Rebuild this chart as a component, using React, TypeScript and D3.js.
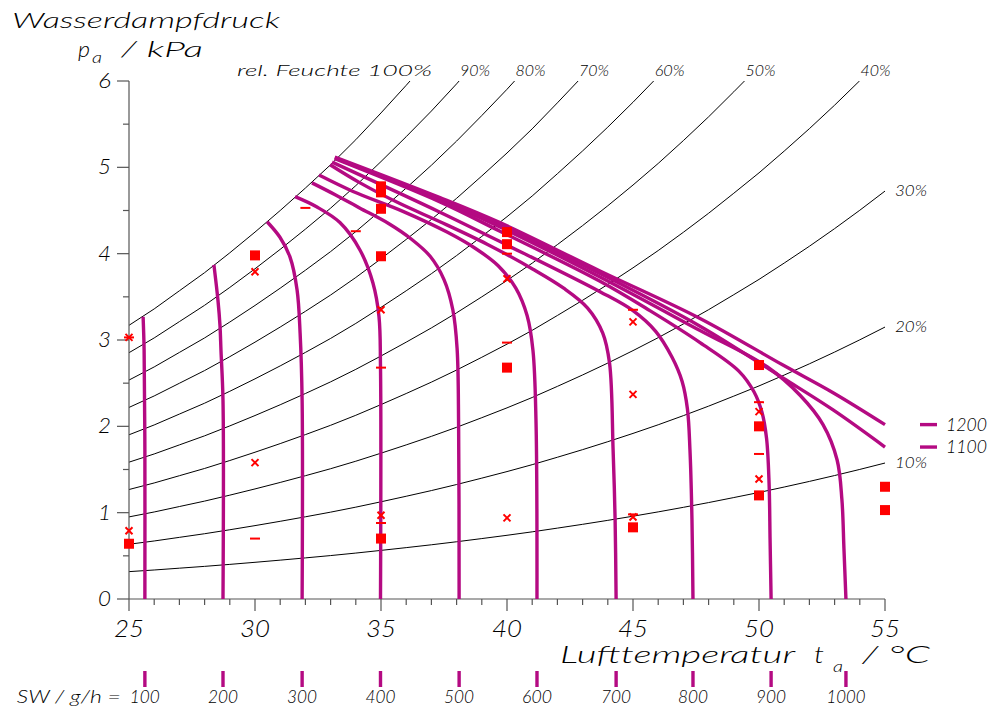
import React from 'react';
import * as d3 from 'd3';

// saturation vapour pressure (kPa), 25..55 °C
const tempGrid = [25, 26, 27, 28, 29, 30, 31, 32, 33, 34, 35, 36, 37, 38, 39, 40,
  41, 42, 43, 44, 45, 46, 47, 48, 49, 50, 51, 52, 53, 54, 55];
const psat = [3.17, 3.36, 3.57, 3.78, 4.01, 4.25, 4.5, 4.76, 5.03, 5.32, 5.63, 5.95,
  6.28, 6.63, 7.0, 7.38, 7.78, 8.21, 8.65, 9.11, 9.59, 10.09, 10.62, 11.17, 11.75,
  12.34, 12.97, 13.62, 14.3, 15.01, 15.75];
const rhLevels = [10, 20, 30, 40, 50, 60, 70, 80, 90, 100];

// sweat rate iso-lines [t, pa]
const sw100 = [[25.63, 0], [25.63, 1.73], [25.6, 2.88], [25.56, 3.27]];
const sw200 = [[28.73, 0], [28.73, 2.3], [28.65, 2.88], [28.61, 3.17], [28.53, 3.46], [28.37, 3.87]];
const sw300 = [[31.87, 0], [31.87, 2.3], [31.79, 3.08], [31.67, 3.58], [31.39, 3.96], [30.99, 4.19], [30.48, 4.37]];
const sw400 = [[34.98, 0], [34.98, 2.69], [34.92, 3.27], [34.68, 3.66], [34.17, 4.04], [33.37, 4.36], [32.46, 4.54], [31.59, 4.66]];
const sw500 = [[38.1, 0], [38.08, 2.0], [38.02, 2.9], [37.85, 3.35], [37.5, 3.7], [36.95, 3.97], [36.2, 4.17], [35.3, 4.35], [34.15, 4.53], [33.2, 4.68], [32.26, 4.82]];
const sw600 = [[41.19, 0], [41.15, 2.07], [41.03, 2.88], [40.8, 3.28], [40.35, 3.6], [39.65, 3.86], [38.75, 4.06], [37.62, 4.25], [35.87, 4.49], [33.89, 4.72], [32.54, 4.91]];
const sw700 = [[44.33, 0], [44.29, 0.92], [44.21, 1.73], [44.07, 2.73], [43.8, 3.08], [43.2, 3.37], [42.25, 3.6], [41.03, 3.82], [39.21, 4.11], [37.34, 4.37], [35.75, 4.58], [34.17, 4.82], [32.98, 5.03]];
const sw800 = [[47.38, 0], [47.34, 0.92], [47.26, 1.73], [47.16, 2.2], [46.95, 2.52], [46.55, 2.8], [45.9, 3.1], [45.0, 3.34], [43.69, 3.56], [40.0, 4.1], [37.34, 4.48], [33.06, 5.06]];
const sw900 = [[50.48, 0], [50.44, 0.68], [50.4, 1.34], [50.3, 1.86], [50.12, 2.16], [49.8, 2.4], [49.2, 2.64], [47.66, 2.97], [45.67, 3.34], [43.69, 3.68], [39.72, 4.26], [37.34, 4.6], [33.17, 5.1]];
const sw1000 = [[53.45, 0], [53.37, 0.59], [53.29, 1.15], [53.1, 1.61], [52.54, 2.02], [51.63, 2.36], [50.32, 2.69], [47.66, 3.11], [43.69, 3.73], [39.72, 4.31], [37.34, 4.62], [33.17, 5.11]];
const sw1100 = [[55.0, 1.76], [52.94, 2.19], [50.95, 2.56], [47.66, 3.16], [43.69, 3.77], [39.72, 4.33], [37.34, 4.63], [33.17, 5.11]];
const sw1200 = [[55.0, 2.02], [52.94, 2.39], [50.95, 2.71], [47.66, 3.25], [43.69, 3.8], [39.72, 4.36], [37.34, 4.65], [33.17, 5.12]];
const swLevels = [100, 200, 300, 400, 500, 600, 700, 800, 900, 1000, 1100, 1200];
const swCurves = [sw100, sw200, sw300, sw400, sw500, sw600, sw700, sw800, sw900, sw1000, sw1100, sw1200];
const swLegend = [1200, 1100];

// measured points
const squares = [[25, 0.64], [30, 3.98], [35, 4.78], [35, 4.71], [35, 4.52], [35, 3.97], [35, 0.7],
  [40, 4.25], [40, 4.11], [40, 2.68], [45, 0.83], [50, 2.71], [50, 2.0], [50, 1.2], [55, 1.3], [55, 1.03]];
const crosses = [[25, 3.03], [25, 0.79], [30, 3.79], [30, 1.58], [35, 3.35], [35, 0.97], [40, 3.71],
  [40, 0.94], [45, 3.21], [45, 2.37], [45, 0.95], [50, 2.17], [50, 1.39]];
const dashes = [[25, 3.03], [30, 0.7], [32, 4.53], [34, 4.26], [35, 2.68], [35, 0.88], [40, 4.0],
  [40, 2.97], [45, 3.35], [45, 0.98], [50, 2.28], [50, 1.68]];

const xTicks = [25, 30, 35, 40, 45, 50, 55];
const yTicks = [0, 1, 2, 3, 4, 5, 6];

const W = 990;
const H = 711;
const MAGENTA = '#b40a82';
const RED = '#ff0000';
const INK = '#000';
const AXIS = '#555';
const font = "Lato, 'DejaVu Sans', sans-serif";

const x = d3.scaleLinear().domain([25, 55]).range([129, 885]);
const y = d3.scaleLinear().domain([0, 6]).range([599, 81]);

const lineLin = d3.line<number[]>().x(d => x(d[0])).y(d => y(d[1]));
const lineSmooth = d3.line<number[]>().x(d => x(d[0])).y(d => y(d[1])).curve(d3.curveCatmullRom.alpha(0.5));

// where a rh curve leaves the plot (top edge or right edge)
function rhEnd(rh: number) {
  const f = rh / 100;
  for (let i = 1; i < tempGrid.length; i++) {
    const p0 = f * psat[i - 1];
    const p1 = f * psat[i];
    if (p1 >= 6) {
      const t = tempGrid[i - 1] + (6 - p0) / (p1 - p0);
      return { top: true, t, p: 6 };
    }
  }
  return { top: false, t: 55, p: f * psat[psat.length - 1] };
}

const T = (props: any) => (
  <text fontFamily={font} fontStyle="italic" fontWeight={300} fill={INK} lengthAdjust="spacingAndGlyphs" {...props} />
);

export default function App() {
  const minorX = d3.range(25, 56, 1);
  const minorY = d3.range(0, 6.01, 0.5);
  return (
    <svg width={W} height={H} style={{ position: 'absolute', left: 0, top: 0, background: '#fff' }}>
      <defs>
        <clipPath id="plot">
          <rect x={x(25)} y={y(6)} width={x(55) - x(25)} height={y(0) - y(6)} />
        </clipPath>
      </defs>

      {/* relative humidity curves */}
      <g clipPath="url(#plot)">
        {rhLevels.map(rh => (
          <path key={rh} d={lineLin(tempGrid.map((t, i) => [t, (rh / 100) * psat[i]])) || ''}
            fill="none" stroke="#000" strokeWidth={1} />
        ))}
      </g>
      {rhLevels.map(rh => {
        const e = rhEnd(rh);
        if (rh === 100) {
          return <T key={rh} x={x(e.t) + 22} y={76} fontSize={16} textAnchor="end" textLength={195}>rel. Feuchte 100%</T>;
        }
        if (e.top) {
          return <T key={rh} x={x(e.t) + 1} y={76} fontSize={16} textLength={30}>{rh}%</T>;
        }
        return <T key={rh} x={x(55) + 10} y={y(e.p) + 5} fontSize={16} textLength={32}>{rh}%</T>;
      })}

      {/* axes */}
      <line x1={x(25)} x2={x(25)} y1={y(0)} y2={y(6)} stroke={AXIS} strokeWidth={1.2} />
      <line x1={x(25)} x2={x(55)} y1={y(0)} y2={y(0)} stroke={AXIS} strokeWidth={1.2} />
      {minorX.map(t => (
        <line key={'xt' + t} x1={x(t)} x2={x(t)} y1={y(0)} y2={y(0) + (t % 5 === 0 ? 12 : 6)} stroke={AXIS} strokeWidth={1.2} />
      ))}
      {minorY.map(p => (
        <line key={'yt' + p} x1={x(25)} x2={x(25) - (p % 1 === 0 ? 12 : 6)} y1={y(p)} y2={y(p)} stroke={AXIS} strokeWidth={1.2} />
      ))}
      {xTicks.map(t => (
        <T key={'xl' + t} x={x(t)} y={637} fontSize={23} textAnchor="middle" textLength={30}>{t}</T>
      ))}
      {yTicks.map(p => (
        <T key={'yl' + p} x={111} y={y(p) + 7} fontSize={21} textAnchor="end" textLength={13}>{p}</T>
      ))}

      {/* axis titles */}
      <T x={12} y={28} fontSize={22} textLength={268}>Wasserdampfdruck</T>
      <T x={78} y={57} fontSize={22} textLength={12}>p</T>
      <T x={92} y={63} fontSize={15} textLength={10}>a</T>
      <T x={121} y={57} fontSize={22} textLength={82}>/ kPa</T>
      <T x={560} y={663} fontSize={23} textLength={235}>Lufttemperatur</T>
      <T x={814} y={663} fontSize={23} textLength={10}>t</T>
      <T x={833} y={672} fontSize={16} textLength={10}>a</T>
      <T x={862} y={663} fontSize={23} textLength={68}>/ °C</T>

      {/* sweat rate curves */}
      {swCurves.map((c, i) => (
        <path key={'sw' + swLevels[i]} d={lineSmooth(c) || ''} fill="none" stroke={MAGENTA}
          strokeWidth={3.4} strokeLinecap="butt" strokeLinejoin="round" />
      ))}

      {/* legend for curves ending at the right edge */}
      {swLegend.map(lv => {
        const c = swCurves[swLevels.indexOf(lv)];
        const yy = y(c[0][1]);
        return (
          <g key={'lg' + lv}>
            <line x1={920} x2={937} y1={yy} y2={yy} stroke={MAGENTA} strokeWidth={3.4} />
            <T x={946} y={yy + 6} fontSize={17} textLength={41}>{lv}</T>
          </g>
        );
      })}

      {/* sweat rate scale below the axis */}
      {swCurves.map((c, i) => {
        const lv = swLevels[i];
        if (c[0][1] !== 0) return null;
        const xx = x(c[0][0]);
        return (
          <g key={'sc' + lv}>
            <line x1={xx} x2={xx} y1={671} y2={687} stroke={MAGENTA} strokeWidth={3.4} />
            <T x={xx} y={703} fontSize={17} textAnchor="middle" textLength={lv >= 1000 ? 39 : 30}>{lv}</T>
            {lv === 100 && (
              <T x={xx - 24} y={703} fontSize={17} textAnchor="end" textLength={104}>SW / g/h =</T>
            )}
          </g>
        );
      })}

      {/* measured points */}
      {squares.map((d, i) => (
        <rect key={'sq' + i} x={x(d[0]) - 5} y={y(d[1]) - 5} width={10} height={10} fill={RED} />
      ))}
      {crosses.map((d, i) => (
        <path key={'cr' + i} d={`M${x(d[0]) - 3.5},${y(d[1]) - 3.5}L${x(d[0]) + 3.5},${y(d[1]) + 3.5}M${x(d[0]) - 3.5},${y(d[1]) + 3.5}L${x(d[0]) + 3.5},${y(d[1]) - 3.5}`}
          stroke={RED} strokeWidth={2} />
      ))}
      {dashes.map((d, i) => (
        <line key={'da' + i} x1={x(d[0]) - 5} x2={x(d[0]) + 5} y1={y(d[1])} y2={y(d[1])} stroke={RED} strokeWidth={2} />
      ))}
    </svg>
  );
}
